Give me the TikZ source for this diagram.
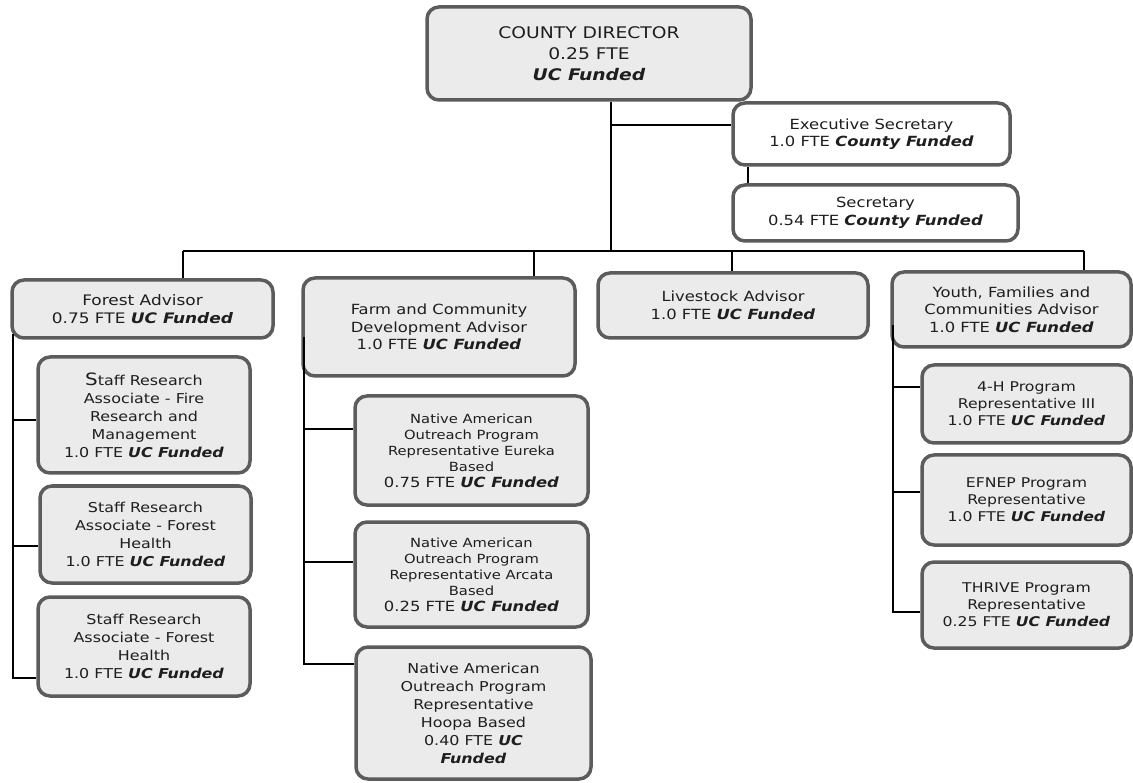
\documentclass[tikz,border=0pt]{standalone}
\usepackage{fontspec}
\setmainfont{DejaVu Sans}[FakeStretch=1.17]
\usetikzlibrary{calc}
\definecolor{boxfill}{HTML}{EBEBEB}
\definecolor{boxline}{HTML}{5C5C5C}
\definecolor{txt}{HTML}{1E1E1E}
\newcommand{\ucf}[1]{\textbf{\textit{#1}}}
\tikzset{
  box/.style={draw=boxline, line width=3.5pt, rounded corners=12pt, fill=boxfill,
    align=center, text=txt, inner sep=0pt, anchor=center},
  wbox/.style={box, fill=white},
  fnorm/.style={font=\fontsize{14}{17.5}\selectfont},
  fsmall/.style={font=\fontsize{12.6}{16}\selectfont},
  fmid/.style={font=\fontsize{13.6}{18}\selectfont},
  fbig/.style={font=\fontsize{16}{21}\selectfont},
  conn/.style={draw=black, line width=1.6pt},
}
\begin{document}
\begin{tikzpicture}[x=1pt,y=-1pt]
\useasboundingbox (0,0) rectangle (1133,783);
% top
\node[box,fbig,minimum width=324pt,minimum height=93pt] (dir) at (589,53.5) {COUNTY DIRECTOR\\0.25 FTE\\\ucf{UC Funded}};
\node[wbox,fnorm,minimum width=277pt,minimum height=62pt] (exec) at (871.5,134) {Executive Secretary\\1.0 FTE \ucf{County Funded}};
\node[wbox,fnorm,minimum width=285pt,minimum height=56pt] (sec) at (875.5,213) {Secretary\\0.54 FTE \ucf{County Funded}};
% advisors
\node[box,font=\fontsize{14.5}{18}\selectfont,minimum width=261pt,minimum height=58pt] (fa) at (142.5,309) {Forest Advisor\\0.75 FTE \ucf{UC Funded}};
\node[box,fnorm,minimum width=272pt,minimum height=98pt] (fc) at (439,327) {Farm and Community\\Development Advisor\\1.0 FTE \ucf{UC Funded}};
\node[box,fnorm,minimum width=270pt,minimum height=65pt] (lv) at (733,305.5) {Livestock Advisor\\1.0 FTE \ucf{UC Funded}};
\node[box,fnorm,minimum width=239pt,minimum height=75pt] (yo) at (1011.5,309.5) {Youth, Families and\\Communities Advisor\\1.0 FTE \ucf{UC Funded}};
% forest staff
\node[box,fmid,minimum width=212pt,minimum height=116pt] (s1) at (144,415) {{\fontsize{17}{17}\selectfont S}taff Research\\Associate - Fire\\Research and\\Management\\1.0 FTE \ucf{UC Funded}};
\node[box,fmid,minimum width=211pt,minimum height=97pt] (s2) at (145.5,534.5) {Staff Research\\Associate - Forest\\Health\\1.0 FTE \ucf{UC Funded}};
\node[box,fmid,minimum width=212pt,minimum height=99pt] (s3) at (144,646.5) {Staff Research\\Associate - Forest\\Health\\1.0 FTE \ucf{UC Funded}};
% farm staff
\node[box,fsmall,minimum width=233pt,minimum height=109pt] (n1) at (471.5,450.5) {Native American\\Outreach Program\\Representative Eureka\\Based\\{\fontsize{14}{16}\selectfont 0.75 FTE \ucf{UC Funded}}};
\node[box,fsmall,minimum width=233pt,minimum height=105pt] (n2) at (471.5,574.5) {Native American\\Outreach Program\\Representative Arcata\\Based\\{\fontsize{14}{16}\selectfont 0.25 FTE \ucf{UC Funded}}};
\node[box,fmid,minimum width=235pt,minimum height=132pt] (n3) at (473.5,713) {Native American\\Outreach Program\\Representative\\Hoopa Based\\0.40 FTE \ucf{UC}\\\ucf{Funded}};
% youth staff
\node[box,font=\fontsize{13.4}{17}\selectfont,minimum width=209pt,minimum height=78pt] (h4) at (1026.5,404) {4-H Program\\Representative III\\1.0 FTE \ucf{UC Funded}};
\node[box,font=\fontsize{13.4}{17}\selectfont,minimum width=209pt,minimum height=90pt] (ef) at (1026.5,500) {EFNEP Program\\Representative\\1.0 FTE \ucf{UC Funded}};
\node[box,font=\fontsize{13.4}{17}\selectfont,minimum width=209pt,minimum height=86pt] (th) at (1026.5,605) {THRIVE Program\\Representative\\0.25 FTE \ucf{UC Funded}};
% connector points
\coordinate (tj) at (611,251);
\coordinate (bL) at (183,251);
\coordinate (bR) at (1084,251);
\coordinate (fcx) at (534,251);
\coordinate (lvx) at (732,251);
\coordinate (ex) at ([yshift=9pt]exec.west);
\coordinate (es1) at ($(exec.south west)+(17,0)$);
\coordinate (es2) at ($(sec.north west)+(17,0)$);
\coordinate (fv) at (13,334);
\coordinate (p1) at ([yshift=-5pt]s1.west);
\coordinate (p2) at ([yshift=-11.5pt]s2.west);
\coordinate (p3) at ([yshift=-31.5pt]s3.west);
\coordinate (nv) at (304,337);
\coordinate (q1) at ([yshift=21.5pt]n1.west);
\coordinate (q2) at ([yshift=12.5pt]n2.west);
\coordinate (q3) at ([yshift=49pt]n3.west);
\coordinate (yv) at (893,325);
\coordinate (r1) at ([yshift=17pt]h4.west);
\coordinate (r2) at ([yshift=8pt]ef.west);
\coordinate (r3) at ([yshift=-7pt]th.west);
% connectors
\draw[conn] (tj |- dir.south) -- (tj);
\draw[conn] (tj |- ex) -- (ex);
\draw[conn] (es1) -- (es2);
\draw[conn] (bL) -- (bR);
\draw[conn] (bL) -- (bL |- fa.north);
\draw[conn] (fcx) -- (fcx |- fc.north);
\draw[conn] (lvx) -- (lvx |- lv.north);
\draw[conn] (bR) -- (bR |- yo.north);
\draw[conn] (fv) |- (p3);
\draw[conn] (fv |- p1) -- (p1);
\draw[conn] (fv |- p2) -- (p2);
\draw[conn] (nv) |- (q3);
\draw[conn] (nv |- q1) -- (q1);
\draw[conn] (nv |- q2) -- (q2);
\draw[conn] (yv) |- (r3);
\draw[conn] (yv |- r1) -- (r1);
\draw[conn] (yv |- r2) -- (r2);
\end{tikzpicture}
\end{document}
